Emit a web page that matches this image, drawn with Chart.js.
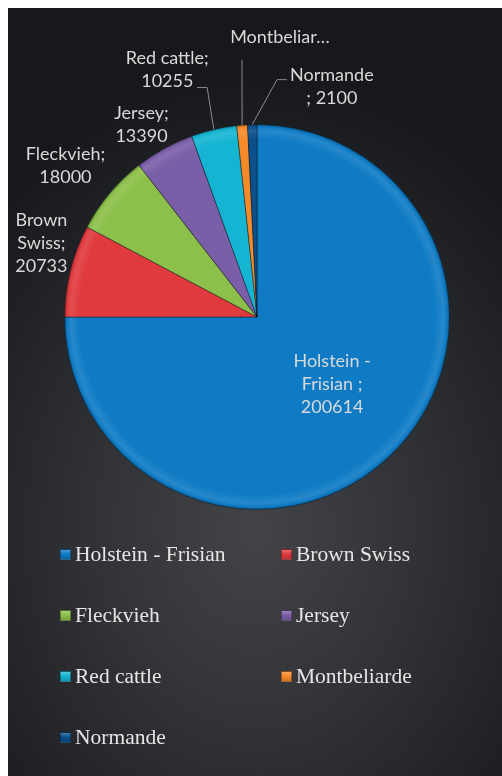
<!DOCTYPE html>
<html>
<head>
<meta charset="utf-8">
<script src="https://cdn.jsdelivr.net/npm/chart.js@4/dist/chart.umd.min.js"></script>
<style>
html,body{margin:0;padding:0;background:#ffffff;}
#wrap{position:relative;width:502px;height:776px;overflow:hidden;background:#ffffff;}
#card{position:absolute;left:8px;top:8px;width:494px;height:768px;
  background:radial-gradient(ellipse 75% 60% at 50% 68%, #424447 0%, #323437 40%, #1f2124 80%, #16181b 100%);}
#c{position:absolute;left:0;top:0;}
#legend{position:absolute;left:60px;top:539px;display:grid;grid-template-columns:221px 221px;grid-auto-rows:61px;}
.item{display:flex;align-items:center;height:30px;font-family:"Liberation Serif","Times New Roman",serif;font-size:21.5px;color:#e6e6e6;white-space:nowrap;}
.box{width:11px;height:11px;margin-right:4px;box-sizing:border-box;border:1px solid rgba(0,0,0,0.35);}
</style>
</head>
<body>
<div id="wrap">
  <div id="card"></div>
  <canvas id="c" width="502" height="776"></canvas>
  <div id="legend"></div>
</div>
<script>
// ---- data ----
const categories = ["Holstein - Frisian", "Brown Swiss", "Fleckvieh", "Jersey", "Red cattle", "Montbeliarde", "Normande"];
const headcount = [200614, 20733, 18000, 13390, 10255, 2400, 2100];
const dataLabelLines = [
  ["Holstein -", "Frisian ;", "200614"],
  ["Brown", "Swiss;", "20733"],
  ["Fleckvieh;", "18000"],
  ["Jersey;", "13390"],
  ["Red cattle;", "10255"],
  ["Montbeliar…"],
  ["Normande", "; 2100"]
];
const sliceColors = ["#0f7bc4", "#e03a3e", "#8cc04a", "#7b5ea8", "#15b4d2", "#f58a28", "#0b4f8b"];

// ---- label layout (relative to pie centre, in radius units) ----
const labelPos = [
  [0.39, 0.35], [-1.12, -0.385], [-0.995, -0.785], [-0.60, -1.0],
  [-0.466, -1.285], [0.119, -1.455], [0.389, -1.195]
];
const leaders = [null, null, null, null,
  [[-0.259, -1.192], [-0.311, -1.192]],
  [[-0.078, -1.337]],
  [[0.104, -1.233], [0.155, -1.233]]
];

function shade(hex, amt){
  const n = parseInt(hex.slice(1),16);
  let r=(n>>16)&255, g=(n>>8)&255, b=n&255;
  const f = v => Math.max(0, Math.min(255, Math.round(amt>=0 ? v+(255-v)*amt : v*(1+amt))));
  return `rgb(${f(r)},${f(g)},${f(b)})`;
}

function sliceFill(context){
  const chart = context.chart;
  const base = sliceColors[context.dataIndex];
  const a = chart.chartArea;
  if(!a) return base;
  const cx=(a.left+a.right)/2, cy=(a.top+a.bottom)/2;
  const r=Math.min(a.right-a.left, a.bottom-a.top)/2;
  const g = chart.ctx.createRadialGradient(cx,cy,0,cx,cy,r);
  g.addColorStop(0, base);
  g.addColorStop(0.92, base);
  g.addColorStop(0.965, shade(base, 0.10));
  g.addColorStop(0.985, base);
  g.addColorStop(1, shade(base, -0.35));
  return g;
}

const labelPlugin = {
  id: 'sliceLabels',
  afterDatasetsDraw(chart){
    const meta = chart.getDatasetMeta(0);
    const ctx = chart.ctx;
    ctx.save();
    meta.data.forEach((arc, i) => {
      const p = arc.getProps(['x','y','startAngle','endAngle','outerRadius'], true);
      const r = p.outerRadius, cx = p.x, cy = p.y;
      const mid = (p.startAngle + p.endAngle)/2;
      const L = leaders[i];
      if (L){
        ctx.beginPath();
        ctx.moveTo(cx + Math.cos(mid)*r, cy + Math.sin(mid)*r);
        L.forEach(pt => ctx.lineTo(cx + pt[0]*r, cy + pt[1]*r));
        ctx.strokeStyle = '#8c8c8c';
        ctx.lineWidth = 1;
        ctx.stroke();
      }
      const lines = dataLabelLines[i];
      const lx = cx + labelPos[i][0]*r, ly = cy + labelPos[i][1]*r;
      const lh = 23;
      ctx.font = '18px Lato, "Open Sans", sans-serif';
      ctx.fillStyle = '#d9d9d9';
      ctx.textAlign = 'center';
      ctx.textBaseline = 'middle';
      lines.forEach((t, k) => ctx.fillText(t, lx, ly + (k - (lines.length-1)/2)*lh));
    });
    ctx.restore();
  }
};

const chart = new Chart(document.getElementById('c'), {
  type: 'pie',
  data: {
    labels: categories,
    datasets: [{
      data: headcount,
      backgroundColor: sliceFill,
      borderColor: 'rgba(10,20,30,0.45)',
      borderWidth: 1,
      hoverOffset: 0
    }]
  },
  options: {
    responsive: false,
    animation: false,
    layout: { padding: { left: 64, top: 124, right: 52, bottom: 266 } },
    plugins: { legend: { display: false }, tooltip: { enabled: false } }
  },
  plugins: [labelPlugin]
});

// HTML legend built from the chart data
const legend = document.getElementById('legend');
categories.forEach((c, i) => {
  const it = document.createElement('div');
  it.className = 'item';
  const b = document.createElement('span');
  b.className = 'box';
  const col = sliceColors[i];
  b.style.background = `linear-gradient(180deg, ${shade(col,0.25)} 0%, ${col} 45%, ${shade(col,-0.15)} 100%)`;
  const t = document.createElement('span');
  t.textContent = c;
  it.appendChild(b); it.appendChild(t);
  legend.appendChild(it);
});
</script>
</body>
</html>
